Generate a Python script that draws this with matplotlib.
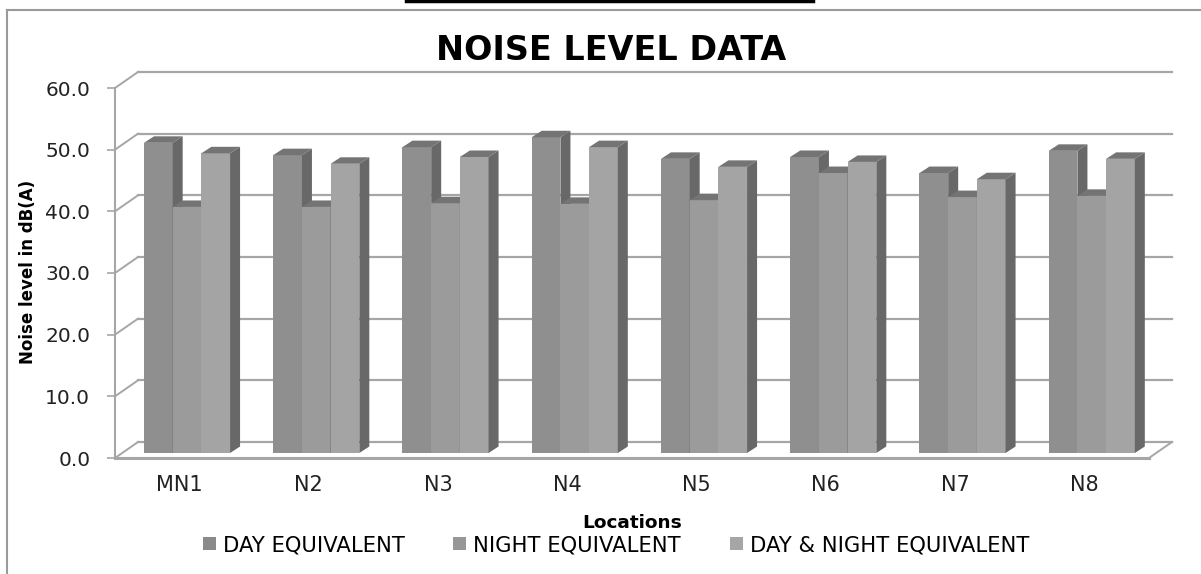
import matplotlib
matplotlib.use('Agg')
import matplotlib.pyplot as plt
from matplotlib.patches import Polygon, Patch
from matplotlib.lines import Line2D
import numpy as np

# data
locations = ['MN1', 'N2', 'N3', 'N4', 'N5', 'N6', 'N7', 'N8']
day_eq = [50.3, 48.3, 49.6, 51.2, 47.7, 48.0, 45.4, 49.0]
night_eq = [39.9, 39.9, 40.5, 40.4, 41.0, 45.4, 41.5, 41.7]
day_night_eq = [48.6, 46.9, 48.0, 49.6, 46.4, 47.2, 44.4, 47.7]
series_names = ['DAY EQUIVALENT', 'NIGHT EQUIVALENT', 'DAY & NIGHT EQUIVALENT']
y_ticks = [0, 10, 20, 30, 40, 50, 60]

W, H = 1201, 574
plt.rcParams['font.family'] = 'DejaVu Sans'

fig = plt.figure(figsize=(W / 100, H / 100), dpi=100)
# axes = front plane of the 3d box
ax = fig.add_axes([115 / W, 1 - 458 / H, 1034 / W, 370 / H])
n = len(locations)
ax.set_xlim(0, n)
ax.set_ylim(0, 60)

px_x = 1034 / n
px_y = 370 / 60


def dx(px):
    return px / px_x


def dy(px):
    return px / px_y


wall_dx, wall_dy = dx(23), dy(16)      # depth of the whole box
bar_ox, bar_oy = dx(7.4), dy(5)        # where the bar fronts sit
bar_dx, bar_dy = dx(10), dy(6.5)       # depth of the bars
bar_w = 0.222
group_start = 0.167

grid_color = '#a6a6a6'

# back wall gridlines and side wall diagonals
for t in y_ticks:
    ax.plot([wall_dx, n + wall_dx], [t + wall_dy, t + wall_dy], color=grid_color,
            lw=1.6, clip_on=False, zorder=1)
    ax.plot([0, wall_dx], [t, t + wall_dy], color=grid_color, lw=1.4, clip_on=False, zorder=1)
# floor right edge
ax.plot([n, n + wall_dx], [0, wall_dy], color=grid_color, lw=1.4, clip_on=False, zorder=1)

front_colors = ['#8f8f8f', '#9b9b9b', '#a4a4a4']
side_color = '#686868'
top_color = '#747474'

x = np.arange(n)
for k, vals in enumerate([day_eq, night_eq, day_night_eq]):
    left = x + group_start + k * bar_w + bar_ox
    z = 3 + k
    ax.bar(left, vals, width=bar_w, bottom=bar_oy, align='edge', color=front_colors[k],
           zorder=z, clip_on=False)
    for xl, v in zip(left, vals):
        top = v + bar_oy
        xr = xl + bar_w
        side = Polygon([(xr, bar_oy), (xr + bar_dx, bar_oy + bar_dy),
                        (xr + bar_dx, top + bar_dy), (xr, top)],
                       closed=True, fc=side_color, ec='none', zorder=z, clip_on=False)
        lid = Polygon([(xl, top), (xl + bar_dx, top + bar_dy),
                       (xr + bar_dx, top + bar_dy), (xr, top)],
                      closed=True, fc=top_color, ec='none', zorder=z, clip_on=False)
        ax.add_patch(side)
        ax.add_patch(lid)

# axes styling
for s in ['top', 'right']:
    ax.spines[s].set_visible(False)
ax.spines['left'].set_color(grid_color)
ax.spines['left'].set_linewidth(1.5)
ax.spines['bottom'].set_color(grid_color)
ax.spines['bottom'].set_linewidth(2.2)

ax.set_yticks(y_ticks)
ax.set_yticklabels([f'{t:.1f}' for t in y_ticks])
ax.tick_params(axis='y', length=5.8, width=1.2, color=grid_color, pad=12,
               labelsize=14.5, labelcolor='#222222')
ax.set_xticks(x + 0.5)
ax.set_xticklabels(locations)
ax.tick_params(axis='x', length=0, pad=12, labelsize=15, labelcolor='#222222')

ax.set_ylabel('Noise level in dB(A)', fontsize=12, fontweight='bold', va='center')
ax.yaxis.set_label_coords(-0.0841, 0.503)
ax.set_xlabel('Locations', fontsize=13.3, fontweight='bold')
ax.xaxis.set_label_coords(0.5, -0.151)

fig.text(611 / W, 1 - 51 / H, 'NOISE LEVEL DATA', ha='center', va='center',
         fontsize=24, fontweight='bold')

legend_colors = ['#8a8a8a', '#979797', '#a6a6a6']
handles = [Patch(fc=c, ec='none', label=name) for c, name in zip(legend_colors, series_names)]
fig.legend(handles=handles, loc='center', bbox_to_anchor=(616 / W, 1 - 545 / H), ncol=3,
           frameon=False, fontsize=15.2, handlelength=0.62, handleheight=0.62,
           handletextpad=0.33, columnspacing=2.3, borderpad=0)

# chart frame and the black rule at the very top
fig.add_artist(Line2D([7 / W, 1], [1 - 10 / H, 1 - 10 / H], transform=fig.transFigure,
                      color='#9a9a9a', lw=1.5))
fig.add_artist(Line2D([7 / W, 7 / W], [0, 1 - 10 / H], transform=fig.transFigure,
                      color='#9a9a9a', lw=1.5))
fig.add_artist(Line2D([406 / W, 813 / W], [1 - 1 / H, 1 - 1 / H], transform=fig.transFigure,
                      color='black', lw=2.5))

fig.savefig('out.png', dpi=100)
